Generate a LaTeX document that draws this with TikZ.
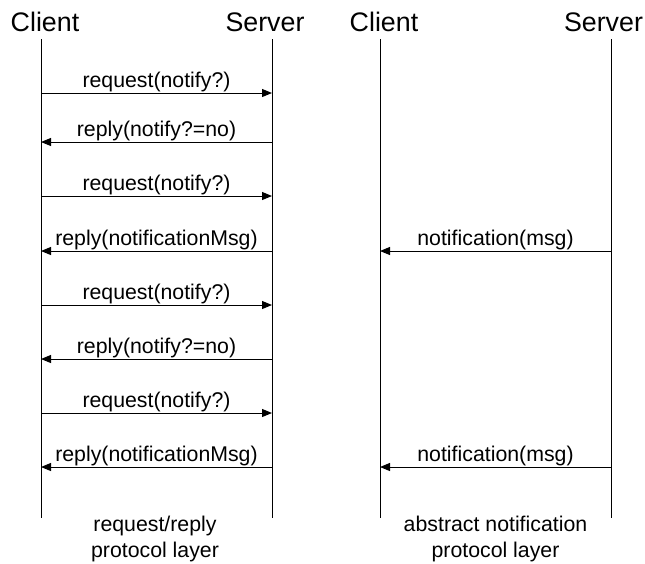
\documentclass[tikz,border=0pt]{standalone}
\usepackage{fontspec}
\setmainfont{Liberation Sans}
\usepackage{tikz}
\usetikzlibrary{arrows.meta, positioning, calc}

\tikzset{
    head/.style={font=\fontsize{26.8}{30}\selectfont, inner sep=0, anchor=base},
    lifeline/.style={line width=1pt},
    msg/.style={line width=1pt, -{Triangle[length=10pt,width=8pt]}},
    lbl/.style={font=\fontsize{21.3}{24}\selectfont, inner sep=0, anchor=base, yshift=6pt},
    layer/.style={font=\fontsize{21.3}{26}\selectfont, align=center, inner sep=0}
}

\begin{document}
\begin{tikzpicture}[x=1pt, y=-1pt]
    \useasboundingbox (0,0) rectangle (645,563);

    % headers
    \node[head] (cl1) at (45,31.7) {Client};
    \node[head] (sv1) at (265,31.7) {Server};
    \node[head] (cl2) at (384,31.7) {Client};
    \node[head] (sv2) at (603.5,31.7) {Server};

    % lifelines
    \coordinate (cl1top) at (41,39);   \coordinate (cl1bot) at (41,518);
    \coordinate (sv1top) at (272,39);  \coordinate (sv1bot) at (272,518);
    \coordinate (cl2top) at (380,39);  \coordinate (cl2bot) at (380,518);
    \coordinate (sv2top) at (611,39);  \coordinate (sv2bot) at (611,518);
    \foreach \l in {cl1,sv1,cl2,sv2}
        \draw[lifeline] (\l top) -- (\l bot);

    % request/reply layer
    \foreach \i/\y in {1/93,2/142,3/196,4/251,5/305,6/359,7/413,8/467}
        \coordinate (row\i) at (0,\y);
    \draw[msg] (cl1top |- row1) -- node[lbl] {request(notify?)} (sv1top |- row1);
    \draw[msg] (sv1top |- row2) -- node[lbl] {reply(notify?=no)} (cl1top |- row2);
    \draw[msg] (cl1top |- row3) -- node[lbl] {request(notify?)} (sv1top |- row3);
    \draw[msg] (sv1top |- row4) -- node[lbl] {reply(notificationMsg)} (cl1top |- row4);
    \draw[msg] (cl1top |- row5) -- node[lbl] {request(notify?)} (sv1top |- row5);
    \draw[msg] (sv1top |- row6) -- node[lbl] {reply(notify?=no)} (cl1top |- row6);
    \draw[msg] (cl1top |- row7) -- node[lbl] {request(notify?)} (sv1top |- row7);
    \draw[msg] (sv1top |- row8) -- node[lbl] {reply(notificationMsg)} (cl1top |- row8);

    % abstract notification layer
    \draw[msg] (sv2top |- row4) -- node[lbl] {notification(msg)} (cl2top |- row4);
    \draw[msg] (sv2top |- row8) -- node[lbl] {notification(msg)} (cl2top |- row8);

    % captions
    \node[layer] (cap1) at (155,539) {request/reply\\protocol layer};
    \node[layer] (cap2) at (495.5,539) {abstract notification\\protocol layer};
\end{tikzpicture}
\end{document}
